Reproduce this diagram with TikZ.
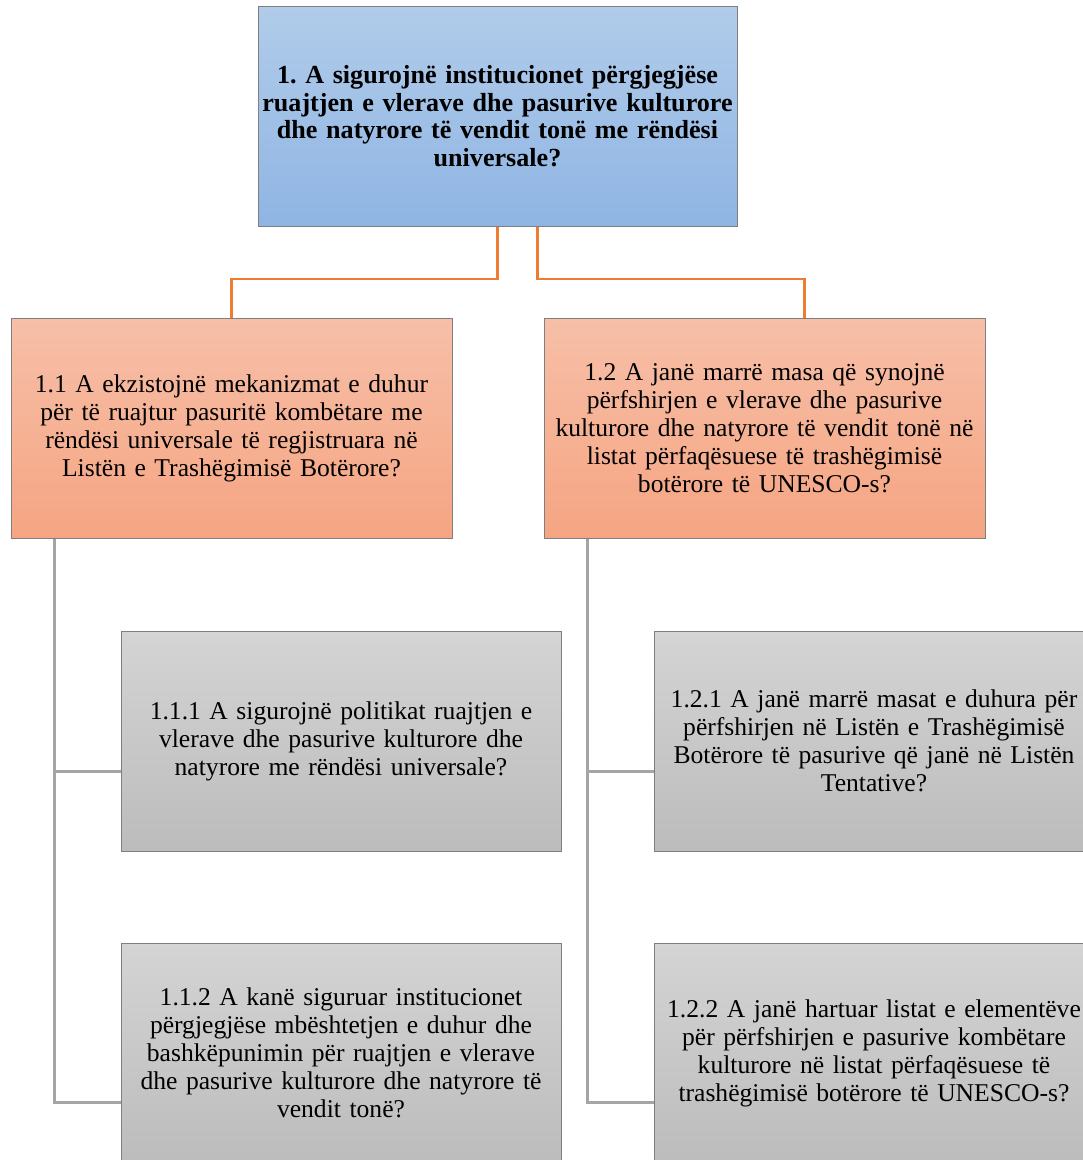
\documentclass[tikz,border=0pt]{standalone}
\usepackage{fontspec}
\setmainfont{Liberation Serif}
\usetikzlibrary{calc}
\definecolor{bluetop}{HTML}{B1CCEA}
\definecolor{bluebot}{HTML}{8FB5E3}
\definecolor{orgtop}{HTML}{F7BFA8}
\definecolor{orgbot}{HTML}{F5A582}
\definecolor{graytop}{HTML}{D4D4D4}
\definecolor{graybot}{HTML}{BCBCBC}
\definecolor{boxline}{HTML}{7F7F7F}
\definecolor{oconn}{HTML}{ED7D31}
\definecolor{gconn}{HTML}{A5A5A5}
\tikzset{
  basebox/.style={draw=boxline, line width=1pt, rectangle, inner sep=0pt, align=center,
    minimum height=220pt, font=\fontsize{25.6}{28}\selectfont},
  topbox/.style={basebox, top color=bluetop, bottom color=bluebot, minimum width=479pt, text width=478pt,
    font=\fontsize{26.1}{27.6}\selectfont\bfseries},
  midbox/.style={basebox, top color=orgtop, bottom color=orgbot, minimum width=441pt, text width=440pt},
  lowbox/.style={basebox, top color=graytop, bottom color=graybot, minimum width=440pt, text width=439pt},
  oline/.style={draw=oconn, line width=2.2pt},
  gline/.style={draw=gconn, line width=2.5pt}
}
\frenchspacing
\begin{document}
\begin{tikzpicture}[x=1pt,y=-1pt]
\useasboundingbox (0,0) rectangle (1083,1160);
\clip (0,0) rectangle (1083,1160);
\fill[white] (0,0) rectangle (1083,1160);

\node[topbox] (t) at (497.5,116) {1. A sigurojnë institucionet përgjegjëse\\ruajtjen e vlerave dhe pasurive kulturore\\dhe natyrore të vendit tonë me rëndësi\\universale?};

\node[midbox] (a) at (231.5,428) {1.1 A ekzistojnë mekanizmat e duhur\\për të ruajtur pasuritë kombëtare me\\rëndësi universale të regjistruara në\\Listën e Trashëgimisë Botërore?};
\node[midbox] (b) at (764.5,428) {1.2 A janë marrë masa që synojnë\\përfshirjen e vlerave dhe pasurive\\kulturore dhe natyrore të vendit tonë në\\listat përfaqësuese të trashëgimisë\\botërore të UNESCO-s?};

\node[lowbox] (c) at (341,741) {1.1.1 A sigurojnë politikat ruajtjen e\\vlerave dhe pasurive kulturore dhe\\natyrore me rëndësi universale?};
\node[lowbox] (d) at (341,1053) {1.1.2 A kanë siguruar institucionet\\përgjegjëse mbështetjen e duhur dhe\\bashkëpunimin për ruajtjen e vlerave\\dhe pasurive kulturore dhe natyrore të\\vendit tonë?};
\node[lowbox] (e) at (874,741) {1.2.1 A janë marrë masat e duhura për\\përfshirjen në Listën e Trashëgimisë\\Botërore të pasurive që janë në Listën\\Tentative?};
\node[lowbox] (f) at (874,1053) {1.2.2 A janë hartuar listat e elementëve\\për përfshirjen e pasurive kombëtare\\kulturore në listat përfaqësuese të\\trashëgimisë botërore të UNESCO-s?};

\coordinate (bus) at (0,279);

% orange connectors
\draw[oline] (t.south) |- (a.north |- bus) -- (a.north);
\coordinate (bn) at ($(b.north)+(40,0)$);
\draw[oline] ($(t.south)+(40,0)$) |- (bn |- bus) -- (bn);

% gray connectors
\coordinate (ga) at ($(a.south west)+(44,0)$);
\coordinate (gc) at ($(c.north west)+(0,141)$);
\coordinate (gd) at ($(d.north west)+(0,160)$);
\draw[gline] (ga) |- (gc);
\draw[gline] (ga) |- (gd);

\coordinate (gb) at ($(b.south west)+(44,0)$);
\coordinate (ge) at ($(e.north west)+(0,141)$);
\coordinate (gf) at ($(f.north west)+(0,160)$);
\draw[gline] (gb) |- (ge);
\draw[gline] (gb) |- (gf);
\end{tikzpicture}
\end{document}
